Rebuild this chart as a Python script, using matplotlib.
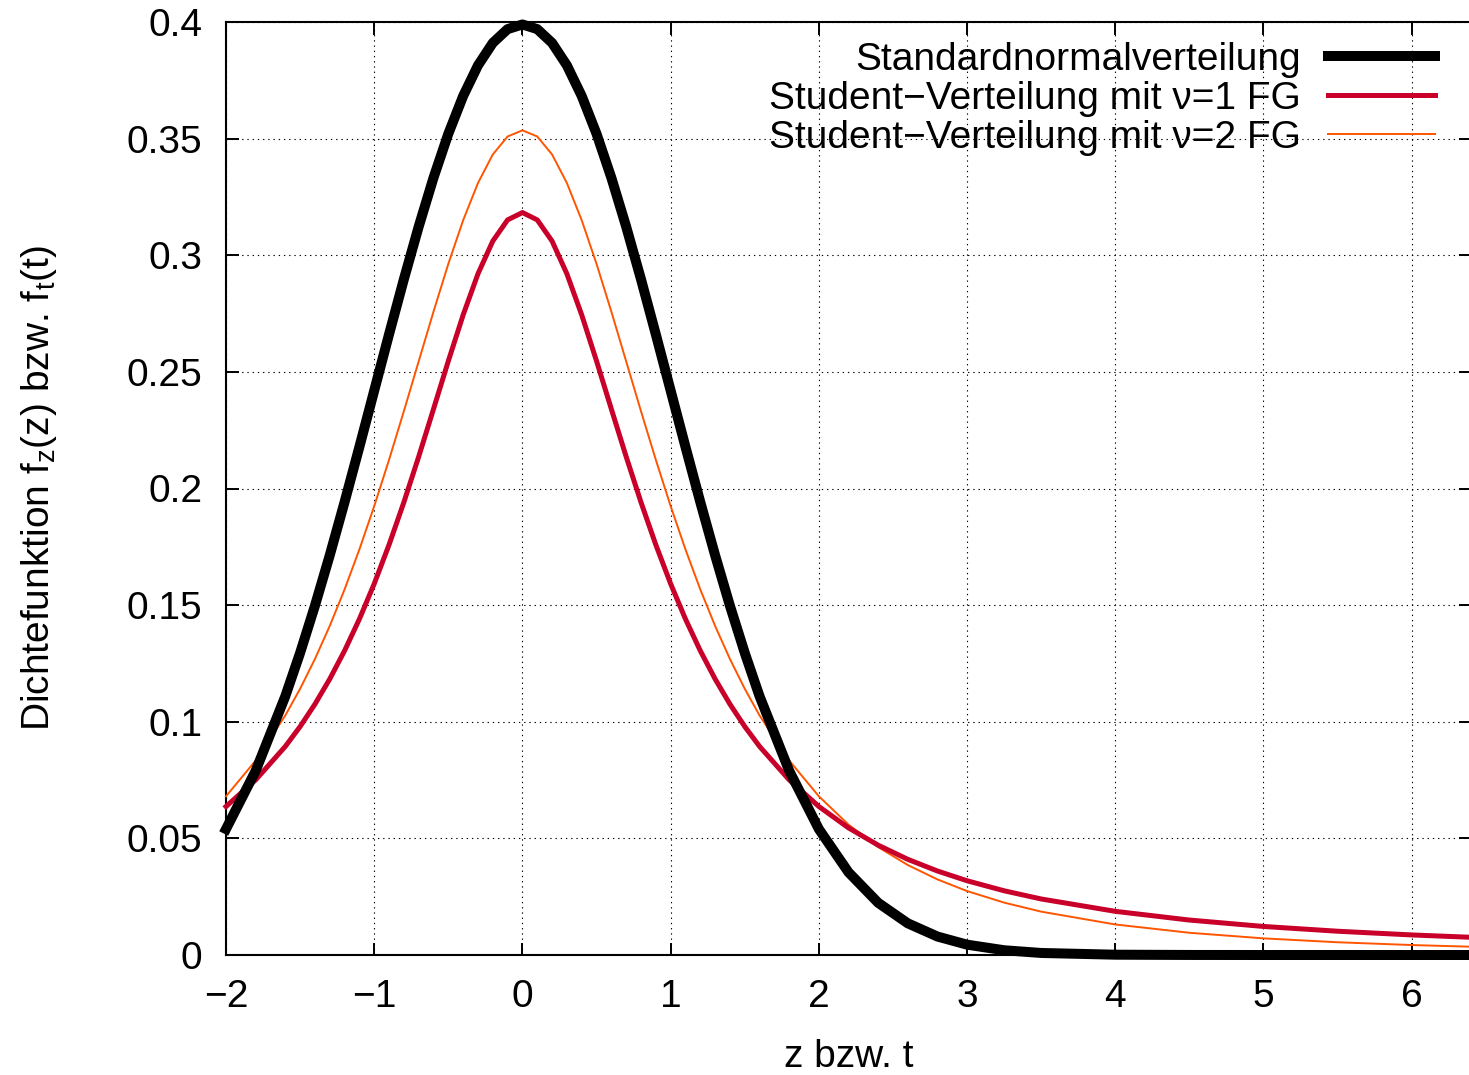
import numpy as np
import matplotlib
matplotlib.use("Agg")
from matplotlib import pyplot as plt

plt.rcParams['font.family'] = ['Liberation Sans', 'DejaVu Sans']
plt.rcParams['mathtext.default'] = 'regular'

# x positions (z bzw. t) and read-off density values
x_vals = [-2.0, -1.8, -1.6, -1.5, -1.4, -1.3, -1.2, -1.1, -1.0, -0.9, -0.8,
          -0.7, -0.6, -0.5, -0.4, -0.3, -0.2, -0.1, 0.0, 0.1, 0.2, 0.3, 0.4,
          0.5, 0.6, 0.7, 0.8, 0.9, 1.0, 1.1, 1.2, 1.3, 1.4, 1.5, 1.6, 1.8,
          2.0, 2.2, 2.4, 2.6, 2.8, 3.0, 3.25, 3.5, 4.0, 4.5, 5.0, 5.5, 6.0, 6.4]

normal_vals = [0.05399, 0.07895, 0.11092, 0.12952, 0.14973, 0.17137, 0.19419,
               0.21785, 0.24197, 0.26609, 0.28969, 0.31225, 0.33322, 0.35207,
               0.36827, 0.38139, 0.39104, 0.39695, 0.39894, 0.39695, 0.39104,
               0.38139, 0.36827, 0.35207, 0.33322, 0.31225, 0.28969, 0.26609,
               0.24197, 0.21785, 0.19419, 0.17137, 0.14973, 0.12952, 0.11092,
               0.07895, 0.05399, 0.03547, 0.02239, 0.01358, 0.00792, 0.00443,
               0.00204, 0.00087, 0.00013, 0.00002, 0.0, 0.0, 0.0, 0.0]

t1_vals = [0.06366, 0.07507, 0.08941, 0.09794, 0.10754, 0.11833, 0.13045,
           0.14403, 0.15915, 0.17586, 0.19409, 0.21363, 0.23405, 0.25465,
           0.27441, 0.29203, 0.30607, 0.31516, 0.31831, 0.31516, 0.30607,
           0.29203, 0.27441, 0.25465, 0.23405, 0.21363, 0.19409, 0.17586,
           0.15915, 0.14403, 0.13045, 0.11833, 0.10754, 0.09794, 0.08941,
           0.07507, 0.06366, 0.05450, 0.04709, 0.04102, 0.03601, 0.03183,
           0.02753, 0.02402, 0.01872, 0.01498, 0.01224, 0.01019, 0.00860, 0.00759]

t2_vals = [0.06804, 0.08337, 0.10270, 0.11413, 0.12690, 0.14108, 0.15673,
           0.17388, 0.19245, 0.21230, 0.23313, 0.25450, 0.27582, 0.29630,
           0.31500, 0.33096, 0.34321, 0.35092, 0.35355, 0.35092, 0.34321,
           0.33096, 0.31500, 0.29630, 0.27582, 0.25450, 0.23313, 0.21230,
           0.19245, 0.17388, 0.15673, 0.14108, 0.12690, 0.11413, 0.10270,
           0.08337, 0.06804, 0.05590, 0.04626, 0.03857, 0.03240, 0.02741,
           0.02246, 0.01859, 0.01309, 0.00953, 0.00713, 0.00546, 0.00427, 0.00355]

labels = ["Standardnormalverteilung",
          "Student\u2212Verteilung mit \u03bd=1 FG",
          "Student\u2212Verteilung mit \u03bd=2 FG"]

x_ticks = [-2, -1, 0, 1, 2, 3, 4, 5, 6]
y_ticks = [0, 0.05, 0.1, 0.15, 0.2, 0.25, 0.3, 0.35, 0.4]

fs = 28

fig = plt.figure(figsize=(14.69, 10.75), dpi=100)
ax = fig.add_axes([226/1469, 120/1075, 1245/1469, 933/1075])

ax.plot(x_vals, normal_vals, color='black', lw=7.2, label=labels[0],
        clip_on=False, zorder=5, solid_joinstyle='round')
ax.plot(x_vals, t1_vals, color='#c8002a', lw=3.6, label=labels[1],
        clip_on=False, zorder=4)
ax.plot(x_vals, t2_vals, color='#ff5500', lw=1.4, label=labels[2],
        clip_on=False, zorder=3)

ax.set_xlim(-2, 6.4)
ax.set_ylim(0, 0.4)
ax.set_xticks(x_ticks)
ax.set_yticks(y_ticks)
ax.set_yticklabels([f"{v:g}" for v in y_ticks])

ax.grid(True, color='black', linestyle=(0, (1.2, 3.5)), lw=0.8)
ax.set_axisbelow(True)
ax.tick_params(direction='in', length=9, width=1.4, labelsize=fs, pad=17,
               top=True, right=True)
for s in ax.spines.values():
    s.set_linewidth(1.5)

ax.set_xlabel("z bzw. t", fontsize=fs)
ax.set_ylabel("Dichtefunktion f$_z$(z) bzw. f$_t$(t)", fontsize=fs)
ax.xaxis.set_label_coords(0.5, -0.09)
ax.yaxis.set_label_coords(-0.134, 0.5)

ax.legend(loc='upper right', bbox_to_anchor=(0.971, 0.979), frameon=False,
          markerfirst=False, fontsize=fs, handlelength=2.75,
          handletextpad=0.7, labelspacing=0.08, borderaxespad=0,
          borderpad=0)

fig.savefig("out.png", dpi=100)
